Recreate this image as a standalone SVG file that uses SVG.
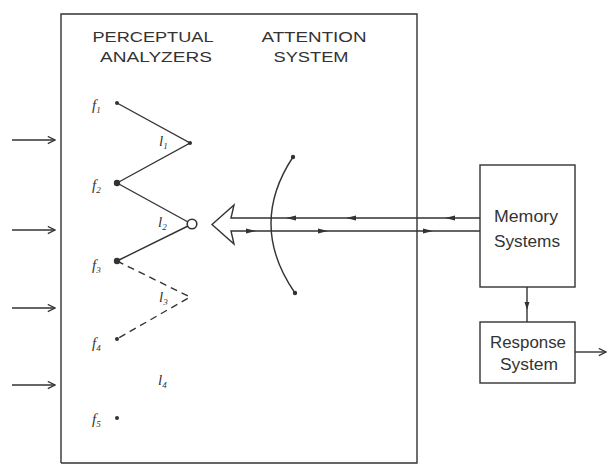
<svg xmlns="http://www.w3.org/2000/svg" width="609" height="466" viewBox="0 0 609 466">
<defs>
<marker id="open" viewBox="0 0 10 10" refX="9" refY="5" markerWidth="9" markerHeight="9" markerUnits="userSpaceOnUse" orient="auto">
<path d="M1,1 L9,5 L1,9" fill="none" stroke="#333" stroke-width="1.4"/>
</marker>
</defs>
<style>
.ln{stroke:#333;fill:none;stroke-width:1.4}
.hd{font-family:"Liberation Sans",Arial,sans-serif;font-size:14px;fill:#333;text-anchor:middle}
.bx{font-family:"Liberation Sans",Arial,sans-serif;font-size:16px;fill:#333;text-anchor:middle}
.lb{font-family:"Liberation Serif","Times New Roman",serif;font-style:italic;font-size:15px;fill:#333}
.sb{font-size:9px}
.dot{fill:#333}
.tri{fill:#333}
</style>
<rect width="609" height="466" fill="#fff"/>
<g id="outer-box">
<path class="ln" d="M61,463 L61,14 L417,14 L417,463 L61,463"/>
</g>
<g id="perceptual-analyzers-title">
<text class="hd" x="153" y="42" textLength="121" lengthAdjust="spacingAndGlyphs">PERCEPTUAL</text>
<text class="hd" x="156" y="62" textLength="112" lengthAdjust="spacingAndGlyphs">ANALYZERS</text>
</g>
<g id="attention-system-title">
<text class="hd" x="314" y="42" textLength="105" lengthAdjust="spacingAndGlyphs">ATTENTION</text>
<text class="hd" x="311" y="62" textLength="75" lengthAdjust="spacingAndGlyphs">SYSTEM</text>
</g>
<g id="f1"><circle class="dot" cx="117" cy="103" r="2"/><text class="lb" x="92" y="110">f<tspan class="sb" dy="3">1</tspan></text></g>
<g id="f2"><circle class="dot" cx="117" cy="183" r="3.2"/><text class="lb" x="92" y="190">f<tspan class="sb" dy="3">2</tspan></text></g>
<g id="f3"><circle class="dot" cx="117" cy="261" r="3.2"/><text class="lb" x="92" y="270">f<tspan class="sb" dy="3">3</tspan></text></g>
<g id="f4"><circle class="dot" cx="117" cy="339" r="2"/><text class="lb" x="92" y="348">f<tspan class="sb" dy="3">4</tspan></text></g>
<g id="f5"><circle class="dot" cx="117" cy="418" r="2"/><text class="lb" x="92" y="424">f<tspan class="sb" dy="3">5</tspan></text></g>
<g id="l1"><circle class="dot" cx="190" cy="143" r="2"/><text class="lb" x="159" y="146">l<tspan class="sb" dy="3">1</tspan></text></g>
<g id="l2"><circle cx="192" cy="224" r="4.8" fill="#fff" stroke="#333" stroke-width="1.6"/><text class="lb" x="158" y="227">l<tspan class="sb" dy="3">2</tspan></text></g>
<g id="l3"><text class="lb" x="159" y="302">l<tspan class="sb" dy="3">3</tspan></text></g>
<g id="l4"><text class="lb" x="158" y="385">l<tspan class="sb" dy="3">4</tspan></text></g>
<g id="memory-systems">
<rect x="480" y="165" width="95" height="122" class="ln"/>
<text class="bx" x="526" y="222" textLength="64" lengthAdjust="spacingAndGlyphs">Memory</text>
<text class="bx" x="527" y="247" textLength="66" lengthAdjust="spacingAndGlyphs">Systems</text>
</g>
<g id="response-system">
<rect x="480" y="322" width="95" height="61" class="ln"/>
<text class="bx" x="528" y="348" textLength="76" lengthAdjust="spacingAndGlyphs">Response</text>
<text class="bx" x="529" y="370" textLength="58" lengthAdjust="spacingAndGlyphs">System</text>
</g>
<g id="connectors">
<path class="ln" d="M117,103 L190,143 L117,183"/>
<path class="ln" stroke-width="3" d="M117,183 L188,222 M188,226 L117,261"/>
<path class="ln" stroke-width="1.6" stroke-dasharray="7,5" d="M117,261 L190,297 L117,339"/>
<path class="ln" d="M12,140 L55,140" marker-end="url(#open)"/>
<path class="ln" d="M12,230 L55,230" marker-end="url(#open)"/>
<path class="ln" d="M12,308 L55,308" marker-end="url(#open)"/>
<path class="ln" d="M12,385 L55,385" marker-end="url(#open)"/>
<path class="ln" d="M293,157 Q248,225 295,293"/>
<circle class="dot" cx="293" cy="157" r="2.2"/>
<circle class="dot" cx="295" cy="293" r="2.2"/>
<path class="ln" stroke-width="1.5" d="M480,218 L231,218 L234,205 L212,224.5 L234,244 L231,231 L480,231"/>
<path class="tri" d="M286,218 L296,215.5 L296,220.5Z M346,218 L356,215.5 L356,220.5Z M445,218 L455,215.5 L455,220.5Z"/>
<path class="tri" d="M256,231 L246,228.5 L246,233.5Z M328,231 L318,228.5 L318,233.5Z M433,231 L423,228.5 L423,233.5Z"/>
<path class="ln" d="M527,287 L527,322"/>
<path class="tri" d="M527,310 L524.5,302 L529.5,302Z"/>
<path class="ln" d="M575,352 L606,352" marker-end="url(#open)"/>
</g>
</svg>
